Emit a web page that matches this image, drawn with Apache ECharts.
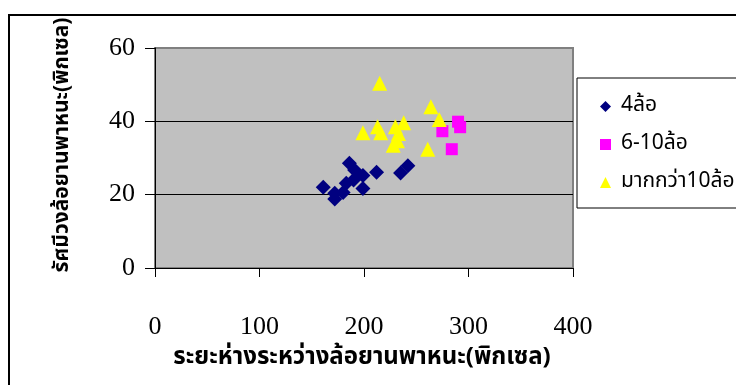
<!DOCTYPE html>
<html>
<head>
<meta charset="utf-8">
<script src="https://cdn.jsdelivr.net/npm/echarts@6/dist/echarts.min.js"></script>
<style>
html,body{margin:0;padding:0;background:#fff;}
#chart{width:736px;height:385px;}
</style>
</head>
<body>
<div id="chart"></div>
<script>
// Data
const seriesNames = ['4ล้อ', '6-10ล้อ', 'มากกว่า10ล้อ'];
const wheels4 = [
  [161, 22.0], [172, 20.4], [172, 18.8], [180, 20.6], [183, 23.1],
  [186, 28.6], [191, 26.7], [199, 25.2], [212, 26.1], [199, 21.7],
  [190, 24.0], [235, 25.9], [242, 27.9]
];
const wheels6to10 = [
  [275, 37.3], [290, 39.9], [292, 38.4], [284, 32.4]
];
const wheelsOver10 = [
  [215, 50.4], [264, 44.0], [272, 40.5], [213, 38.5], [199, 36.9],
  [216, 36.9], [230, 38.5], [238, 39.6], [233, 36.7], [232, 34.7],
  [228, 33.5], [261, 32.4]
];
const xTicks = [0, 100, 200, 300, 400];
const yTicks = [0, 20, 40, 60];
const xTitle = 'ระยะห่างระหว่างล้อยานพาหนะ(พิกเซล)';
const yTitle = 'รัศมีวงล้อยานพาหนะ(พิกเซล)';

const thaiFont = '"Noto Sans Thai", "Tahoma", "DejaVu Sans", "Noto Sans", sans-serif';
const numFont = '"Liberation Serif", "DejaVu Serif", serif';

const chart = echarts.init(document.getElementById('chart'), null, {renderer: 'canvas'});
chart.setOption({
  animation: false,
  backgroundColor: '#ffffff',
  graphic: [
    {type: 'rect', z: -10, shape: {x: 9, y: 15, width: 800, height: 400},
     style: {fill: 'none', stroke: '#000', lineWidth: 2}},
    {type: 'text', x: 64, y: 145, rotation: Math.PI / 2,
     style: {text: yTitle, font: 'bold 21px ' + thaiFont, fill: '#000',
             textAlign: 'center', textVerticalAlign: 'middle'}},
    {type: 'text', x: 362, y: 359,
     style: {text: xTitle, font: 'bold 24px ' + thaiFont, fill: '#000',
             textAlign: 'center', textVerticalAlign: 'middle'}}
  ],
  grid: {
    left: 155, top: 48, width: 418, height: 220,
    show: true, backgroundColor: '#c0c0c0', borderColor: '#808080', borderWidth: 2
  },
  legend: {
    orient: 'vertical', left: 577, top: 78,
    data: seriesNames,
    backgroundColor: '#ffffff', borderColor: '#000', borderWidth: 1,
    padding: [18, 200, 15, 23],
    itemGap: 17, itemWidth: 11, itemHeight: 11,
    textStyle: {fontFamily: thaiFont, fontSize: 21, color: '#000', padding: [0, 0, 0, 5]}
  },
  xAxis: {
    type: 'value', min: 0, max: 400, interval: 100,
    axisLine: {show: true, lineStyle: {color: '#000', width: 1}},
    axisTick: {show: true, length: 9, lineStyle: {color: '#000'}},
    splitLine: {show: false},
    axisLabel: {
      margin: 46, color: '#000', fontFamily: numFont, fontSize: 26,
      formatter: v => xTicks.includes(v) ? String(v) : ''
    }
  },
  yAxis: {
    type: 'value', min: 0, max: 60, interval: 20,
    axisLine: {show: true, lineStyle: {color: '#000', width: 1}},
    axisTick: {show: true, length: 10, lineStyle: {color: '#000'}},
    splitLine: {show: true, lineStyle: {color: ['#000', '#000', '#000', '#808080'], width: 1}},
    axisLabel: {
      margin: 20, color: '#000', fontFamily: numFont, fontSize: 26,
      formatter: v => yTicks.includes(v) ? String(v) : ''
    }
  },
  series: [
    {name: seriesNames[0], type: 'scatter', data: wheels4, symbol: 'diamond', symbolSize: 15,
     itemStyle: {color: '#000080', opacity: 1}},
    {name: seriesNames[1], type: 'scatter', data: wheels6to10, symbol: 'rect', symbolSize: 12,
     itemStyle: {color: '#ff00ff', opacity: 1}},
    {name: seriesNames[2], type: 'scatter', data: wheelsOver10, symbol: 'triangle', symbolSize: 15,
     itemStyle: {color: '#ffff00', opacity: 1}}
  ]
});
</script>
</body>
</html>
